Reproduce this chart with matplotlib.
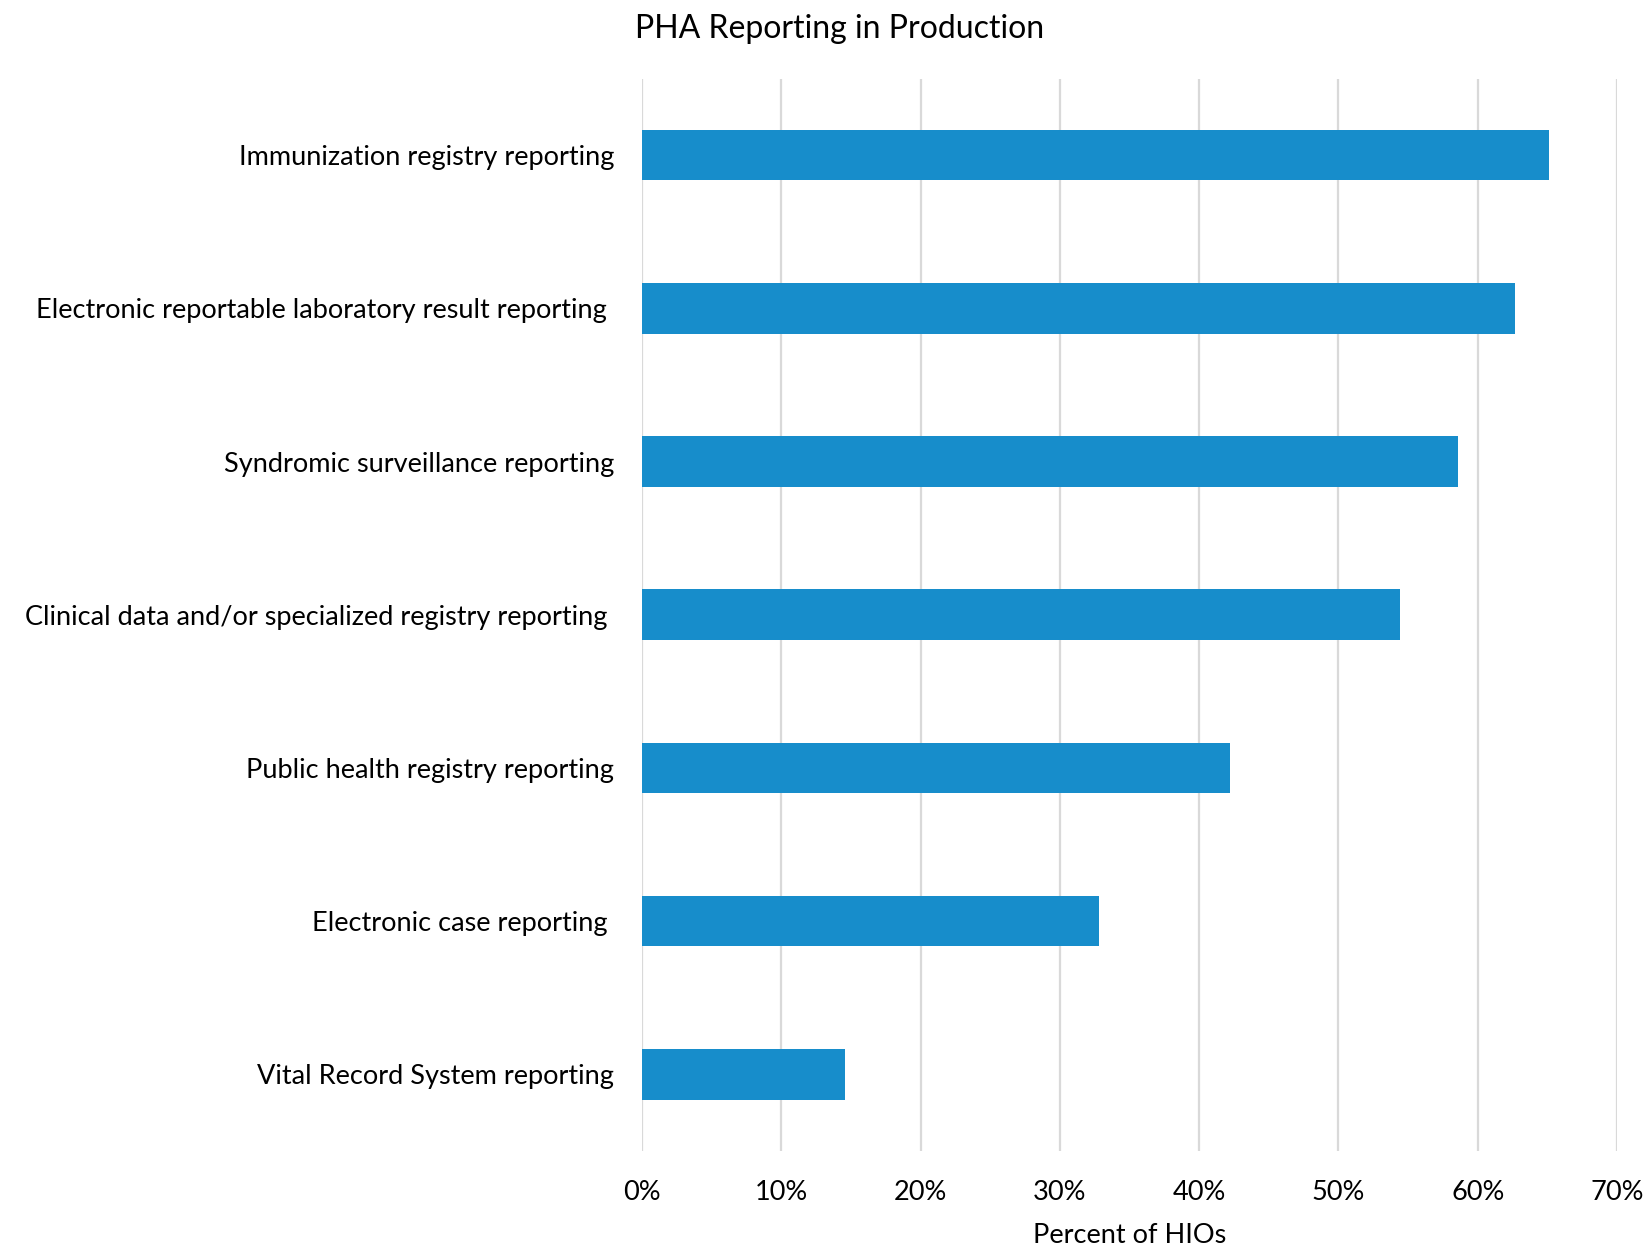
import matplotlib.pyplot as plt
from matplotlib.ticker import PercentFormatter

plt.rcParams["font.family"] = ["Lato", "DejaVu Sans"]

# PHA reporting types, listed top to bottom
categories = [
    "Immunization registry reporting",
    "Electronic reportable laboratory result reporting ",
    "Syndromic surveillance reporting",
    "Clinical data and/or specialized registry reporting ",
    "Public health registry reporting",
    "Electronic case reporting ",
    "Vital Record System reporting",
]
percent_hios = [65.1, 62.7, 58.6, 54.4, 42.2, 32.8, 14.6]
x_ticks = [0, 10, 20, 30, 40, 50, 60, 70]

bar_color = "#178DCB"
grid_color = "#D9D9D9"

fig = plt.figure(figsize=(16.44, 12.49), dpi=100)
ax = fig.add_axes([0.3905, 0.0785, 0.5931, 0.8586])

ypos = range(len(categories))
ax.barh(ypos, percent_hios, height=0.33, color=bar_color, zorder=3)

ax.set_xlim(0, 70)
ax.set_ylim(len(categories) - 0.5, -0.5)
ax.set_xticks(x_ticks)
ax.xaxis.set_major_formatter(PercentFormatter(decimals=0))
ax.set_yticks(list(ypos))
ax.set_yticklabels(categories)

ax.grid(axis="x", color=grid_color, linewidth=1.6, zorder=0)
ax.grid(axis="y", visible=False)
for s in ax.spines.values():
    s.set_visible(False)

ax.tick_params(axis="both", length=0, labelsize=19.5, colors="black")
ax.tick_params(axis="x", pad=21)
ax.tick_params(axis="y", pad=20)

ax.set_xlabel("Percent of HIOs", fontsize=19.5, labelpad=13)
fig.text(0.5105, 0.977, "PHA Reporting in Production", fontsize=23,
         ha="center", va="center")

fig.savefig("out.png", dpi=100, facecolor="white")
